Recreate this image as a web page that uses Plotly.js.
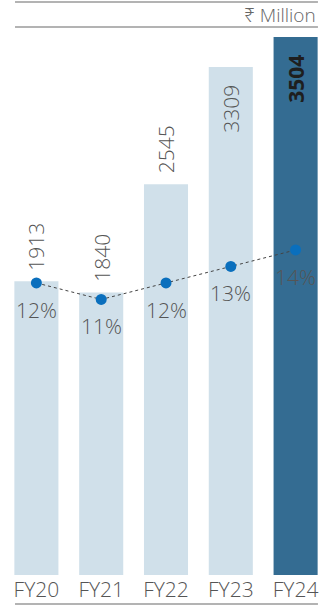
<!DOCTYPE html>
<html>
<head>
<meta charset="utf-8">
<script src="https://cdn.plot.ly/plotly-3.0.1.min.js"></script>
<style>
html,body{margin:0;padding:0;background:#fff;}
#chart{width:336px;height:606px;}
</style>
</head>
<body>
<div id="chart"></div>
<script>
const categories = ['FY20', 'FY21', 'FY22', 'FY23', 'FY24'];
const revenue = [1913, 1840, 2545, 3309, 3504];
const margin = [12, 11, 12, 13, 14];
const revenueLabels = ['1913', '1840', '2545', '3309', '<b>3504</b>'];
const marginLabels = ['12%', '11%', '12%', '13%', '14%'];
const labelInside = [false, false, false, true, true];

const FONT = '"Open Sans", "Noto Sans", sans-serif';
const lightBar = '#d0e0ea';
const darkBar = '#346c92';

const barTrace = {
  type: 'bar',
  x: categories,
  y: revenue,
  marker: {color: categories.map((c, i) => i === 4 ? darkBar : lightBar), line: {width: 0}},
  hoverinfo: 'skip'
};

const lineTrace = {
  type: 'scatter',
  mode: 'lines+markers',
  x: categories,
  y: margin,
  yaxis: 'y2',
  line: {color: '#444', width: 1, dash: 'dot'},
  marker: {color: '#0a6fbd', size: 11},
  cliponaxis: false,
  hoverinfo: 'skip'
};

const annotations = [];
categories.forEach((c, i) => {
  const inside = labelInside[i];
  annotations.push({
    x: c, y: revenue[i], xref: 'x', yref: 'y',
    text: revenueLabels[i], showarrow: false, textangle: -90,
    yanchor: inside ? 'top' : 'bottom', xanchor: 'center',
    yshift: inside ? -16 : 9,
    font: {family: FONT, size: 21, weight: 300, color: i === 4 ? '#1e1e1e' : '#555'}
  });
  annotations.push({
    x: c, y: margin[i], xref: 'x', yref: 'y2',
    text: marginLabels[i], showarrow: false, yshift: -27,
    font: {family: FONT, size: 21, weight: 300, color: '#555'}
  });
});
annotations.push({
  x: 0.969, y: 1.0275, xref: 'paper', yref: 'paper',
  xanchor: 'right', yanchor: 'middle',
  text: '₹ Million', showarrow: false,
  font: {family: FONT, size: 19, weight: 300, color: '#666'}
});

const lineStyle = {color: '#9a9a9a', width: 1.5};
const shapes = [
  {type: 'line', xref: 'paper', yref: 'paper', x0: 0.034, x1: 0.969, y0: 1.0514, y1: 1.0514, line: lineStyle},
  {type: 'line', xref: 'paper', yref: 'paper', x0: 0.034, x1: 0.969, y0: 1.0055, y1: 1.0055, line: lineStyle},
  {type: 'line', xref: 'paper', yref: 'paper', x0: 0.034, x1: 0.969, y0: -0.0532, y1: -0.0532, line: lineStyle}
];

const layout = {
  width: 336, height: 606,
  margin: {l: 4, r: 8, t: 30, b: 31, pad: 0},
  paper_bgcolor: '#fff', plot_bgcolor: '#fff',
  showlegend: false,
  bargap: 0.32,
  font: {family: FONT, color: '#555'},
  xaxis: {
    type: 'category', range: [-0.5, 4.5],
    showgrid: false, zeroline: false, showline: false, ticks: '',
    ticklabelstandoff: 0,
    tickfont: {family: FONT, size: 21, weight: 300, color: '#555'},
    fixedrange: true
  },
  yaxis: {
    range: [0, 3550], visible: false, showgrid: false, zeroline: false, fixedrange: true
  },
  yaxis2: {
    range: [-5.7, 27.33], overlaying: 'y', visible: false, showgrid: false, zeroline: false, fixedrange: true
  },
  annotations: annotations,
  shapes: shapes
};

Plotly.newPlot('chart', [barTrace, lineTrace], layout, {displayModeBar: false, staticPlot: true});
</script>
</body>
</html>
